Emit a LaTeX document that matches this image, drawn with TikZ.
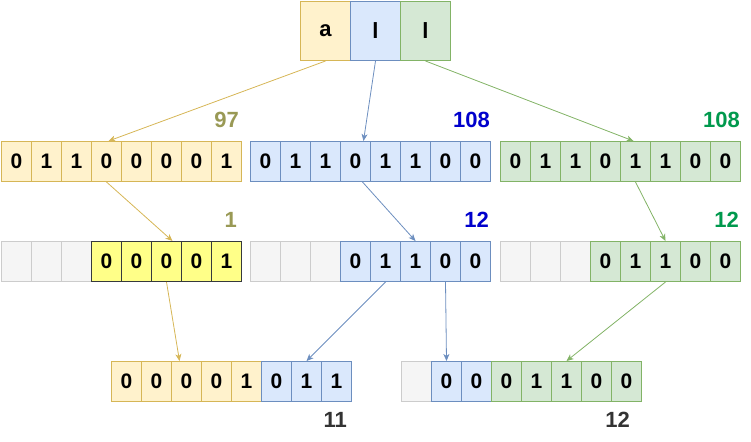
\documentclass[tikz,border=0pt]{standalone}
\usepackage{fontspec}
\setmainfont{Liberation Sans}
\usetikzlibrary{arrows.meta}
\definecolor{yfill}{HTML}{FFF2CC}\definecolor{ydraw}{HTML}{D6B656}
\definecolor{bfill}{HTML}{DAE8FC}\definecolor{bdraw}{HTML}{6C8EBF}
\definecolor{gfill}{HTML}{D5E8D4}\definecolor{gdraw}{HTML}{82B366}
\definecolor{nfill}{HTML}{F5F5F5}\definecolor{ndraw}{HTML}{CCCCCC}
\definecolor{hfill}{HTML}{FFFF88}\definecolor{hdraw}{HTML}{36393D}
\definecolor{olive}{HTML}{999955}\definecolor{dblue}{HTML}{0000CC}
\definecolor{dgreen}{HTML}{00994D}\definecolor{dgrey}{HTML}{333333}
\tikzset{
  cell/.style={line width=1pt, minimum width=30pt, minimum height=40pt, inner sep=0pt, anchor=north west, font=\fontsize{21}{21}\selectfont\bfseries},
  ycell/.style={cell, draw=ydraw, fill=yfill},
  bcell/.style={cell, draw=bdraw, fill=bfill},
  gcell/.style={cell, draw=gdraw, fill=gfill},
  ncell/.style={cell, draw=ndraw, fill=nfill},
  hcell/.style={cell, draw=hdraw, fill=hfill},
  topbox/.style={line width=1pt, minimum width=50pt, minimum height=59pt, inner sep=0pt, anchor=north west, font=\fontsize{22}{22}\selectfont\bfseries},
  lab/.style={anchor=east, inner sep=0pt, font=\fontsize{22}{22}\selectfont\bfseries},
  conn/.style={line width=0.8pt, -{Stealth[length=7pt,width=6pt,inset=2pt]}},
}
\begin{document}
\begin{tikzpicture}[x=1pt,y=-1pt]
\useasboundingbox (0,0) rectangle (751,441);
% top letters
\node[topbox, draw=ydraw, fill=yfill] (ta) at (300,1) {a};
\node[topbox, draw=bdraw, fill=bfill] (tl) at (350,1) {l};
\node[topbox, draw=gdraw, fill=gfill] (tm) at (400,1) {l};
% row 1
\foreach \b [count=\i] in {0,1,1,0,0,0,0,1}
  \node[ycell] (A1-\i) at ({1+30*(\i-1)},141) {\b};
\foreach \b [count=\i] in {0,1,1,0,1,1,0,0}
  \node[bcell] (L1-\i) at ({250+30*(\i-1)},141) {\b};
\foreach \b [count=\i] in {0,1,1,0,1,1,0,0}
  \node[gcell] (M1-\i) at ({500+30*(\i-1)},141) {\b};
% row 2
\foreach \i in {1,2,3} {
  \node[ncell] (A2-\i) at ({1+30*(\i-1)},241) {};
  \node[ncell] (L2-\i) at ({250+30*(\i-1)},241) {};
  \node[ncell] (M2-\i) at ({500+30*(\i-1)},241) {};
}
\foreach \b [count=\i from 4] in {0,0,0,0,1}
  \node[hcell] (A2-\i) at ({1+30*(\i-1)},241) {\b};
\foreach \b [count=\i from 4] in {0,1,1,0,0}
  \node[bcell] (L2-\i) at ({250+30*(\i-1)},241) {\b};
\foreach \b [count=\i from 4] in {0,1,1,0,0}
  \node[gcell] (M2-\i) at ({500+30*(\i-1)},241) {\b};
% row 3
\foreach \b [count=\i] in {0,0,0,0,1}
  \node[ycell] (P-\i) at ({111+30*(\i-1)},361) {\b};
\foreach \b [count=\i from 6] in {0,1,1}
  \node[bcell] (P-\i) at ({111+30*(\i-1)},361) {\b};
\node[ncell] (Q-1) at (401,361) {};
\foreach \b [count=\i from 2] in {0,0}
  \node[bcell] (Q-\i) at ({401+30*(\i-1)},361) {\b};
\foreach \b [count=\i from 4] in {0,1,1,0,0}
  \node[gcell] (Q-\i) at ({401+30*(\i-1)},361) {\b};
% labels
\node[lab, text=olive] (l97) at (239,120) {97};
\node[lab, text=dblue] (l108b) at (490,120) {108};
\node[lab, text=dgreen] (l108g) at (740,120) {108};
\node[lab, text=olive] (l1) at (237,220) {1};
\node[lab, text=dblue] (l12b) at (489,220) {12};
\node[lab, text=dgreen] (l12g) at (739,220) {12};
\node[lab, text=dgrey] (l11) at (347,420) {11};
\node[lab, text=dgrey] (l12) at (630,420) {12};
% connectors
\draw[conn, ydraw] (ta.south) -- ([xshift=2pt]A1-4.north);
\draw[conn, bdraw] (tl.south) -- ([xshift=8pt]L1-4.north);
\draw[conn, gdraw] (tm.south) -- ([xshift=-2pt]M1-5.north);
\draw[conn, ydraw] (A1-4.south) -- ([xshift=6pt]A2-6.north);
\draw[conn, bdraw] ([xshift=7pt]L1-4.south) -- (L2-6.north);
\draw[conn, gdraw] (M1-5.south) -- (M2-6.north);
\draw[conn, ydraw] (A2-6.south) -- ([xshift=-7pt]P-3.north);
\draw[conn, bdraw] (L2-5.south) -- (P-7.north);
\draw[conn, bdraw] (L2-7.south) -- (Q-2.north);
\draw[conn, gdraw] (M2-6.south) -- (Q-6.north);
\end{tikzpicture}
\end{document}
